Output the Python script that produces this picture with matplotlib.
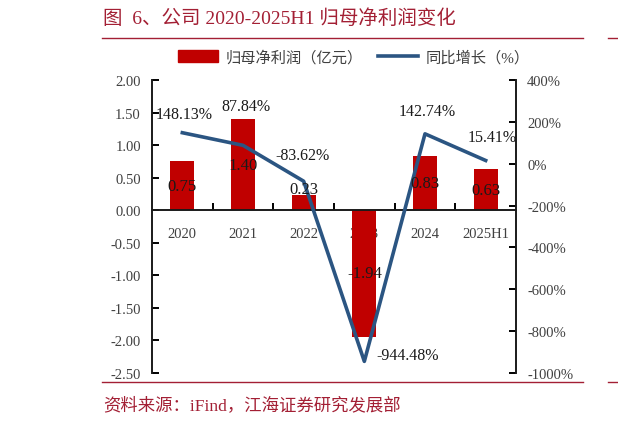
import matplotlib
matplotlib.use("Agg")
import matplotlib.pyplot as plt
from matplotlib.lines import Line2D
from matplotlib.patches import Patch
from matplotlib.ticker import FuncFormatter, FixedLocator

plt.rcParams['font.family'] = ['Liberation Serif', 'Noto Sans CJK SC']
plt.rcParams['axes.unicode_minus'] = False

categories = ['2020', '2021', '2022', '2023', '2024', '2025H1']
profit = [0.75, 1.40, 0.23, -1.94, 0.83, 0.63]
growth = [148.13, 87.84, -83.62, -944.48, 142.74, 15.41]
growth_labels = ['148.13%', '87.84%', '-83.62%', '-944.48%', '142.74%', '15.41%']
left_ticks = [2.0, 1.5, 1.0, 0.5, 0.0, -0.5, -1.0, -1.5, -2.0, -2.5]
right_ticks = [400, 200, 0, -200, -400, -600, -800, -1000]

red = '#C00000'
blue = '#2B5582'
title_red = '#A31F34'
W, H = 618, 427

fig = plt.figure(figsize=(W / 100, H / 100), dpi=100)
ax = fig.add_axes([152 / W, 1 - 374 / H, (516 - 152) / W, (374 - 81) / H])
ax2 = ax.twinx()

x = list(range(len(categories)))
ax.bar(x, profit, width=0.4, color=red, zorder=2)
ax.set_xlim(-0.5, 5.5)
ax.set_ylim(-2.5, 2.0)
ax.set_yticks(left_ticks)
ax.yaxis.set_major_formatter(FuncFormatter(lambda v, p: f'{v:.2f}'))

ax2.plot(x, growth, color=blue, lw=2.6, zorder=3)
ax2.set_ylim(-1000, 400)
ax2.set_yticks(right_ticks)
ax2.yaxis.set_major_formatter(FuncFormatter(lambda v, p: f'{v:.0f}%'))

for a in (ax, ax2):
    a.spines['top'].set_visible(False)
    for s in ('left', 'right', 'bottom'):
        a.spines[s].set_linewidth(1.4)
        a.spines[s].set_color('#1a1a1a')
ax2.spines['bottom'].set_visible(False)
ax2.spines['left'].set_visible(False)
ax.spines['right'].set_visible(False)
ax.spines['bottom'].set_position(('data', 0))

ax.tick_params(axis='y', direction='in', length=5, width=1.4, labelsize=10.5,
               labelcolor='#404040', pad=8)
ax2.tick_params(axis='y', direction='in', length=5, width=1.4, labelsize=10.5,
                labelcolor='#404040', pad=8)
ax.set_xticks(x)
ax.set_xticklabels(categories)
ax.xaxis.set_minor_locator(FixedLocator([0.5, 1.5, 2.5, 3.5, 4.5]))
ax.tick_params(axis='x', which='major', length=0, labelsize=10.5, labelcolor='#404040', pad=12)
ax.tick_params(axis='x', which='minor', direction='in', length=5, width=1.4)

# bar value labels (drawn on ax2 so they sit above the line)
label_y = [v / 2 for v in profit]
label_y[2] = 0.33
for xi, v, ly in zip(x, profit, label_y):
    ax2.text(xi, ly, f'{v:.2f}', ha='center', va='center',
             fontsize=12, color='#1a1a1a', zorder=5, transform=ax.transData)

# growth labels
offsets = [(2, 19), (3, 39), (-1, 26), (43, 6), (2, 23), (7, 23)]
for xi, g, lab, off in zip(x, growth, growth_labels, offsets):
    ax2.annotate(lab, (xi, g), xytext=off, textcoords='offset pixels',
                 ha='center', va='center', fontsize=11.5, color='#1a1a1a', zorder=5)

# legend
handles = [Patch(color=red), Line2D([0], [0], color=blue, lw=2.6)]
fig.legend(handles, ['归母净利润（亿元）', '同比增长（%）'], loc='center',
           bbox_to_anchor=(354 / W, 1 - 58 / H), ncol=2, frameon=False,
           fontsize=11, handlelength=2.6, handleheight=0.75, columnspacing=1.0,
           handletextpad=0.5, labelcolor='#404040')

# title, rules and source
fig.text(103 / W, 1 - 19 / H, '图  6、公司 2020-2025H1 归母净利润变化', color=title_red,
         fontsize=14, va='center', ha='left')
fig.add_artist(Line2D([102 / W, 583 / W], [1 - 39 / H] * 2, color=title_red, lw=1))
fig.add_artist(Line2D([102 / W, 583 / W], [1 - 383 / H] * 2, color=title_red, lw=1))
fig.add_artist(Line2D([608 / W, 1], [1 - 39 / H] * 2, color=title_red, lw=1))
fig.add_artist(Line2D([608 / W, 1], [1 - 383 / H] * 2, color=title_red, lw=1))
fig.text(103 / W, 1 - 406 / H, '资料来源：iFind，江海证券研究发展部', color=title_red,
         fontsize=12.5, va='center', ha='left')

fig.savefig('out.png', dpi=100)
